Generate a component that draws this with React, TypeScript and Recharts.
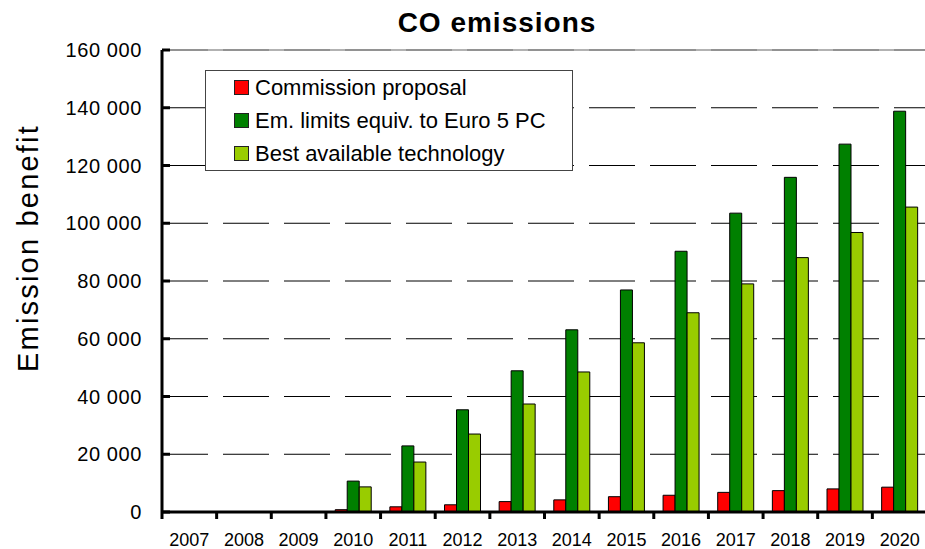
import React from "react";
import { BarChart, Bar, XAxis, YAxis, CartesianGrid, Legend, ReferenceLine } from "recharts";

const years = ["2007", "2008", "2009", "2010", "2011", "2012", "2013", "2014", "2015", "2016", "2017", "2018", "2019", "2020"];
const commissionProposal = [0, 0, 0, 800, 1800, 2500, 3600, 4200, 5300, 5800, 6800, 7400, 8000, 8600];
const euro5Limits = [0, 0, 0, 10700, 22900, 35400, 48900, 63100, 76900, 90300, 103500, 115900, 127400, 138800];
const bestAvailable = [0, 0, 0, 8700, 17300, 27000, 37400, 48500, 58600, 69000, 79000, 88100, 96800, 105600];
const yTicks = [0, 20000, 40000, 60000, 80000, 100000, 120000, 140000, 160000];

const seriesNames = ["Commission proposal", "Em. limits equiv. to Euro 5 PC", "Best available technology"];
const seriesColors = ["#ff0000", "#008000", "#99cc00"];

const data = years.map((year, i) => ({
  year,
  commission: commissionProposal[i],
  euro5: euro5Limits[i],
  bat: bestAvailable[i],
}));

const FONT = "Arial, 'Liberation Sans', sans-serif";
const CHART_W = 940;
const CHART_H = 549;
const Y_AXIS_W = 162;
const MARGIN = { top: 50, right: 13, left: 0, bottom: 0 };
const PLOT_W = CHART_W - MARGIN.left - MARGIN.right - Y_AXIS_W;
const BAND = PLOT_W / years.length;

const fmt = (v: number) => String(v).replace(/\B(?=(\d{3})+(?!\d))/g, " ");

const YTick = (props: any) => {
  const { x, y, payload } = props;
  return (
    <g>
      <line x1={x + 20} x2={x + 28} y1={y} y2={y} stroke="#000" strokeWidth={3} />
      <text x={x} y={y + 7} textAnchor="end" fontFamily={FONT} fontSize={20} letterSpacing={0.6} fill="#000">
        {fmt(payload.value)}
      </text>
    </g>
  );
};

const XTick = (props: any) => {
  const { x, y, payload } = props;
  return (
    <g>
      <line x1={x - BAND / 2} x2={x - BAND / 2} y1={y} y2={y + 7} stroke="#000" strokeWidth={3} />
      <text x={x} y={y + 34} textAnchor="middle" fontFamily={FONT} fontSize={18} fill="#000">
        {payload.value}
      </text>
    </g>
  );
};

// legend drawn from the series arrays so the order matches the original
const LegendBox = () => (
  <div
    style={{
      boxSizing: "border-box",
      width: 368,
      height: 101,
      border: "1px solid #444",
      background: "#fff",
      fontFamily: FONT,
      fontSize: 22,
      color: "#000",
    }}
  >
    {seriesNames.map((name, i) => (
      <div key={`leg-${i}`} style={{ display: "flex", alignItems: "center", height: 33, paddingLeft: 28 }}>
        <span
          style={{
            display: "inline-block",
            boxSizing: "border-box",
            width: 15,
            height: 15,
            background: seriesColors[i],
            border: "1px solid #222",
            marginRight: 6,
          }}
        />
        <span style={{ whiteSpace: "nowrap", lineHeight: "22px" }}>{name}</span>
      </div>
    ))}
  </div>
);

const YLabel = (props: any) => {
  const { viewBox } = props;
  const cx = viewBox.x + 38;
  const cy = viewBox.y + viewBox.height / 2 - 33;
  return (
    <text
      x={cx}
      y={cy}
      transform={`rotate(-90, ${cx}, ${cy})`}
      textAnchor="middle"
      fontFamily={FONT}
      fontSize={29}
      letterSpacing={2.2}
      fill="#000"
    >
      Emission benefit
    </text>
  );
};

export default function App() {
  return (
    <div
      style={{
        position: "fixed",
        left: 0,
        top: 0,
        width: 925,
        height: 549,
        overflow: "hidden",
        background: "#fff",
      }}
    >
      <div
        style={{
          position: "absolute",
          left: 0,
          width: 994,
          top: 9,
          textAlign: "center",
          fontFamily: FONT,
          fontWeight: "bold",
          fontSize: 28,
          lineHeight: "28px",
          letterSpacing: 1,
          zIndex: 2,
        }}
      >
        CO emissions
      </div>
      <BarChart
        width={CHART_W}
        height={CHART_H}
        data={data}
        margin={MARGIN}
        barCategoryGap="17%"
        barGap={0}
      >
        <CartesianGrid vertical={false} stroke="#000" strokeDasharray="46 15" />
        <ReferenceLine y={160000} stroke="#999" strokeWidth={1.5} />
        <XAxis
          dataKey="year"
          height={37}
          axisLine={{ stroke: "#000", strokeWidth: 3 }}
          tickLine={false}
          tickSize={0}
          tickMargin={0}
          interval={0}
          tick={<XTick />}
        />
        <YAxis
          width={Y_AXIS_W}
          domain={[0, 160000]}
          ticks={yTicks}
          interval={0}
          axisLine={{ stroke: "#000", strokeWidth: 3 }}
          tickLine={false}
          tickSize={0}
          tickMargin={20}
          tick={<YTick />}
          label={{ content: <YLabel /> }}
        />
        <Legend
          layout="horizontal"
          verticalAlign="middle"
          align="center"
          content={<LegendBox />}
          wrapperStyle={{ left: 205, top: 70, width: 368, height: 101 }}
        />
        <Bar dataKey="commission" name={seriesNames[0]} fill={seriesColors[0]} stroke="#000" strokeWidth={1} isAnimationActive={false} />
        <Bar dataKey="euro5" name={seriesNames[1]} fill={seriesColors[1]} stroke="#000" strokeWidth={1} isAnimationActive={false} />
        <Bar dataKey="bat" name={seriesNames[2]} fill={seriesColors[2]} stroke="#000" strokeWidth={1} isAnimationActive={false} />
      </BarChart>
    </div>
  );
}
